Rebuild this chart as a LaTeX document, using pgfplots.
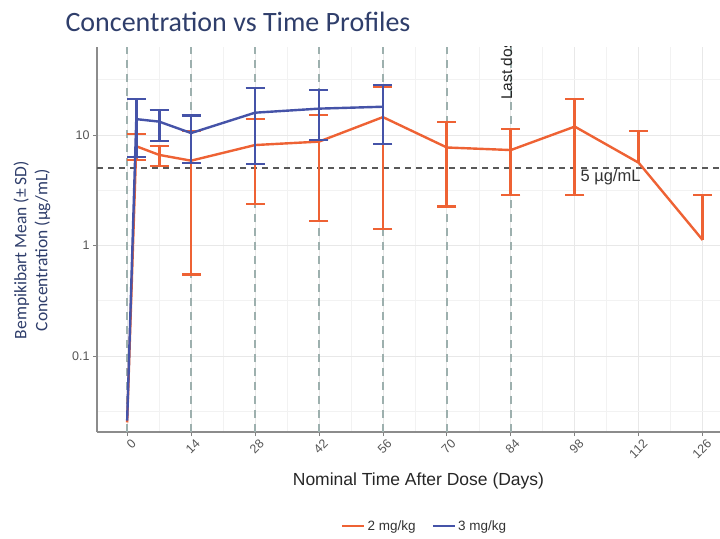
\documentclass[border=0pt]{standalone}
\usepackage{pgfplots}
\pgfplotsset{compat=1.18}
\usepackage{pgfplotstable}
\usepackage{fontspec}
\setmainfont{Liberation Sans}
\newfontfamily\calfont{Carlito}

\definecolor{c2}{HTML}{EE6234}
\definecolor{c3}{HTML}{4553A8}
\definecolor{navy}{HTML}{2F3E6B}
\definecolor{dosegray}{HTML}{9DB0AE}
\definecolor{tickgray}{HTML}{555555}

% day, mean, lower (mean - SD), upper (mean + SD)
\pgfplotstableread{
day mean lo hi
0 0.025 0.025 0.025
2 7.9 5.9 10.2
7 6.6 5.25 7.9
14 5.85 0.545 10.9
28 8.1 2.38 13.9
42 8.7 1.67 15.2
56 14.5 1.40 27.4
70 7.7 2.25 13.1
84 7.3 2.87 11.3
98 11.9 2.87 21.0
112 5.6 5.6 10.9
126 1.12 1.12 2.84
}\lowdose

\pgfplotstableread{
day mean lo hi
0 0.026 0.026 0.026
2 13.9 6.3 21.2
7 13.2 8.8 16.8
14 10.4 5.55 15.0
28 15.9 5.47 26.4
42 17.3 9.0 25.5
56 18.0 8.3 28.3
}\highdose

\pgfplotsset{
  sdbars/.style={draw=none, mark=none, forget plot, line width=2.8pt,
    error bars/error bar style={draw=#1, line width=2.8pt},
    error bars/error mark options={rotate=90, draw=#1, line width=2.2pt, mark size=9.5pt}},
}

\begin{document}
\begin{tikzpicture}[x=1pt,y=1pt]
\useasboundingbox (0,0) rectangle (720,538);
\node[anchor=west, text=navy, font=\calfont\fontsize{28}{32}\selectfont] at (62,516) {Concentration vs Time Profiles};
\node[rotate=90, align=center, text=navy, font=\calfont\fontsize{17.5}{21}\selectfont] at (32,288)
  {Bempikibart Mean (± SD)\\Concentration (µg/mL)};
\begin{axis}[
  at={(97pt,106pt)}, anchor=south west,
  scale only axis, width=623pt, height=385pt,
  ymode=log, log basis y=10,
  xmin=-6.6, xmax=129.8, ymin=0.0205, ymax=62.5,
  xtick={0,14,...,126},
  minor xtick={7,21,...,133},
  ytick={0.1,1,10}, yticklabels={0.1,1,10},
  minor ytick={0.0316,0.316,3.16,31.6},
  grid=both,
  major grid style={color=black!9, line width=0.8pt},
  minor grid style={color=black!5, line width=0.6pt},
  axis lines*=left,
  axis line style={color=black!45, line width=1.2pt},
  tick align=outside, major tick length=4pt, minor tick length=0pt,
  tick style={color=black!50, line width=0.8pt},
  /pgf/number format/assume math mode=true,
  ticklabel style={font=\fontsize{12.5}{14}\selectfont, text=tickgray},
  xticklabel style={rotate=45, anchor=north east, xshift=4pt, yshift=-1pt},
  xlabel={Nominal Time After Dose (Days)},
  xlabel style={font=\fontsize{17.5}{20}\selectfont, text=black!85,
    at={(axis description cs:0.516,-0.127)}, anchor=center},
  clip mode=global,
  legend columns=2,
  legend style={at={(0.526,-0.244)}, anchor=center, draw=none, fill=none,
    font=\fontsize{13.5}{15}\selectfont, text=black!80,
    /tikz/every even column/.append style={column sep=14pt}},
  legend image code/.code={\draw[#1, line width=2.4pt] (0pt,0pt) -- (22pt,0pt);},
]
% dosing days
\pgfplotsinvokeforeach{0,14,28,42,56,70,84}{
  \draw[dosegray, line width=1.4pt, dash pattern=on 8pt off 6pt]
    ({axis cs:#1,1} |- {rel axis cs:0,0}) -- ({axis cs:#1,1} |- {rel axis cs:0,1});
}
% 5 ug/mL threshold
\draw[black!65, line width=1.8pt, dash pattern=on 6pt off 5pt]
  ({rel axis cs:0,0} |- {axis cs:0,5}) -- ({rel axis cs:1,0} |- {axis cs:0,5});
\node[anchor=north west, font=\fontsize{16.5}{18}\selectfont, text=black!80, inner sep=1pt]
  at (axis cs:99.0,4.95) {5 µg/mL};
\node[rotate=90, anchor=south west, font=\fontsize{15.5}{18}\selectfont, text=black!85, inner sep=1pt]
  at (axis cs:84.6,20.3) {Last dose};

% error bars, 2 mg/kg
\addplot[sdbars=c2, error bars/.cd, y dir=both, y explicit]
  table[x=day, y=mean, y error plus expr=\thisrow{hi}-\thisrow{mean},
        y error minus expr=\thisrow{mean}-\thisrow{lo},
        restrict x to domain=1:100] {\lowdose};
\addplot[sdbars=c2, error bars/.cd, y dir=plus, y explicit]
  table[x=day, y=mean, y error plus expr=\thisrow{hi}-\thisrow{mean},
        restrict x to domain=110:130] {\lowdose};
\addplot[c2, line width=2.4pt, mark=none] table[x=day, y=mean] {\lowdose};
\addlegendentry{2 mg/kg}

% error bars, 3 mg/kg
\addplot[sdbars=c3, error bars/.cd, y dir=both, y explicit]
  table[x=day, y=mean, y error plus expr=\thisrow{hi}-\thisrow{mean},
        y error minus expr=\thisrow{mean}-\thisrow{lo},
        restrict x to domain=1:100] {\highdose};
\addplot[c3, line width=2.4pt, mark=none] table[x=day, y=mean] {\highdose};
\addlegendentry{3 mg/kg}
\end{axis}
\end{tikzpicture}
\end{document}
